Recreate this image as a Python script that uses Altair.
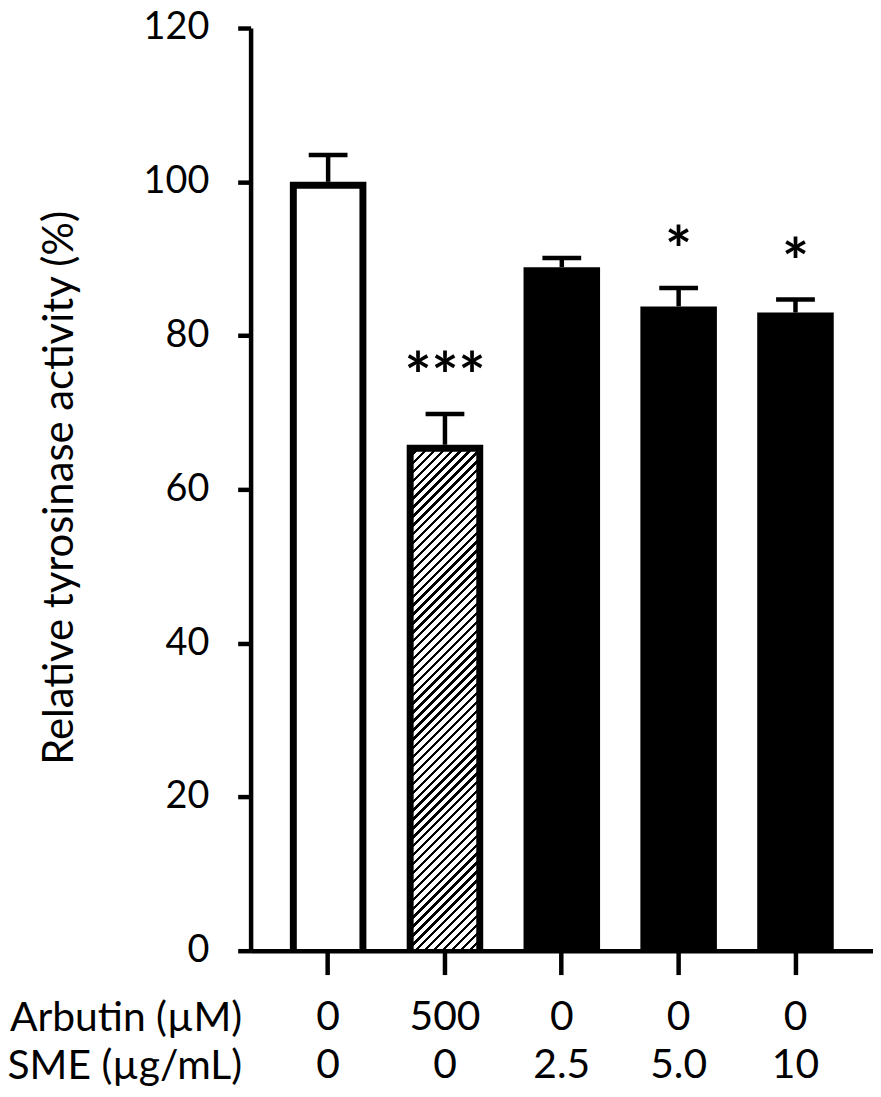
import altair as alt
import pandas as pd

# ---- data ----
arbutin = ["0", "500", "0", "0", "0"]
sme = ["0", "0", "2.5", "5.0", "10"]
activity = [100.0, 65.8, 88.9, 83.8, 83.0]
sem = [3.5, 4.0, 1.2, 2.4, 1.7]
signif = ["", "***", "", "*", "*"]
style = ["open", "hatched", "solid", "solid", "solid"]

keys = [f"{a}|{s}" for a, s in zip(arbutin, sme)]
df = pd.DataFrame({"key": keys, "activity": activity, "sem": sem,
                   "sig": signif, "style": style})
df["top"] = df["activity"] + df["sem"]

W, H = 626, 928
YMAX = 120
FONT = "Lato"
BORDER = 7
INNER_W = 63

# hatch pattern as a striped linear gradient (45 degree "/" lines)
hatch_value = activity[style.index("hatched")]
hw = INNER_W
hh = hatch_value * H / YMAX - BORDER
s = hw + hh
d = hw * hw + hh * hh
period = 9.0
n = int(round(s / period))
stops = []
for k in range(n):
    a = k / n
    b = (k + 0.38) / n
    c = (k + 1) / n
    stops += [{"offset": a, "color": "black"}, {"offset": b, "color": "black"},
              {"offset": b, "color": "white"}, {"offset": c, "color": "white"}]
hatch = {"gradient": "linear", "x1": 0, "y1": 0,
         "x2": hw * s / d, "y2": hh * s / d, "stops": stops}

base = alt.Chart(df)

x = alt.X(
    "key:N", sort=keys,
    scale=alt.Scale(paddingInner=0.345, paddingOuter=0.336),
    axis=alt.Axis(
        title=["Arbutin (µM)", "SME (µg/mL)"],
        titleX=-9, titleY=80, titleAlign="right", titleBaseline="alphabetic",
        titleAngle=0, titleFontSize=41, titleFontWeight="normal",
        titleLineHeight=49, titleFont=FONT, titleColor="black",
        labelExpr="split(datum.label, '|')", labelAngle=0,
        labelFontSize=41, labelLineHeight=49, labelPadding=23, labelFont=FONT,
        labelColor="black",
        tickSize=24, tickWidth=4.5, tickColor="black",
        domainWidth=4.5, domainColor="black", zindex=1,
    ),
)
y = alt.Y(
    "activity:Q",
    scale=alt.Scale(domain=[0, YMAX], nice=False),
    axis=alt.Axis(
        values=[0, 20, 40, 60, 80, 100, 120],
        title="Relative tyrosinase activity (%)",
        titleX=-179, titleY=462, titleAngle=270, titleAlign="center",
        titleBaseline="alphabetic", titleFontSize=42, titleFontWeight="normal",
        titleFont=FONT, titleColor="black",
        labelFontSize=38, labelPadding=29, labelFont=FONT, labelColor="black",
        tickSize=13, tickWidth=4.5, tickColor="black",
        domainWidth=4.5, domainColor="black", grid=False, zindex=1,
    ),
)

outer = base.mark_bar(color="black").encode(x=x, y=y)
inner_open = base.transform_filter("datum.style == 'open'").mark_bar(
    fill="white", width=INNER_W, yOffset=BORDER
).encode(x=x, y=y, y2=alt.datum(0))
inner_hatch = base.transform_filter("datum.style == 'hatched'").mark_bar(
    fill=hatch, width=INNER_W, yOffset=BORDER
).encode(x=x, y=y, y2=alt.datum(0))
err = base.mark_rule(color="black", strokeWidth=4.5).encode(
    x=x, y=alt.Y("activity:Q"), y2="top:Q")
cap = base.mark_tick(color="black", size=39, thickness=4.5, opacity=1).encode(
    x=x, y=alt.Y("top:Q"))
stars = base.transform_filter("datum.sig != ''").mark_text(
    font=FONT, fontSize=64, fontWeight="bold", baseline="alphabetic",
    align="center", dy=-15, color="black"
).encode(x=x, y=alt.Y("top:Q"), text="sig:N")

chart = alt.layer(outer, inner_open, inner_hatch, err, cap, stars).properties(
    width=W, height=H,
    padding={"left": 244, "top": 17, "right": 0, "bottom": 146},
    autosize=alt.AutoSizeParams(type="none"),
    background="white",
).configure_view(stroke=None)

chart.save("out.html", embed_options={"renderer": "svg", "actions": False})
